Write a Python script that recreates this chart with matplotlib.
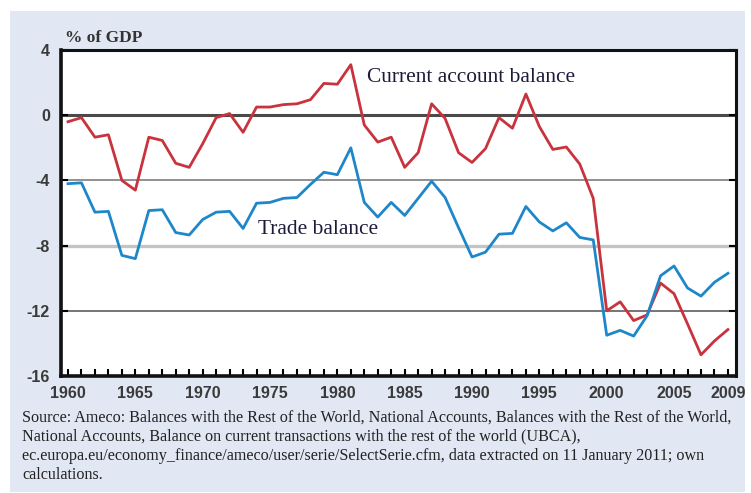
import matplotlib
matplotlib.use("Agg")
import matplotlib.pyplot as plt
from matplotlib.patches import Rectangle
import numpy as np

years = list(range(1960, 2010))

current_account = [-0.4, -0.15, -1.35, -1.2, -4.0, -4.6, -1.35, -1.55, -2.95, -3.2,
                   -1.75, -0.15, 0.1, -1.05, 0.5, 0.5, 0.65, 0.7, 0.95, 1.95,
                   1.9, 3.1, -0.6, -1.65, -1.35, -3.2, -2.3, 0.7, -0.2, -2.3,
                   -2.9, -2.05, -0.15, -0.8, 1.3, -0.7, -2.1, -1.95, -3.0, -5.1,
                   -12.0, -11.45, -12.6, -12.25, -10.3, -10.95, -12.8, -14.7, -13.85, -13.15]

trade = [-4.2, -4.15, -5.95, -5.9, -8.6, -8.8, -5.85, -5.8, -7.2, -7.35,
         -6.4, -5.95, -5.9, -6.95, -5.4, -5.35, -5.1, -5.05, -4.25, -3.5,
         -3.65, -2.0, -5.35, -6.25, -5.35, -6.15, -5.1, -4.05, -5.05, -6.9,
         -8.7, -8.4, -7.3, -7.25, -5.6, -6.55, -7.1, -6.6, -7.5, -7.65,
         -13.5, -13.2, -13.55, -12.3, -9.85, -9.25, -10.6, -11.1, -10.25, -9.7]

y_ticks = [4, 0, -4, -8, -12, -16]
x_ticks = [1960, 1965, 1970, 1975, 1980, 1985, 1990, 1995, 2000, 2005, 2009]

source_text = ("Source: Ameco: Balances with the Rest of the World, National Accounts, Balances with the Rest of the World,\n"
               "National Accounts, Balance on current transactions with the rest of the world (UBCA),\n"
               "ec.europa.eu/economy_finance/ameco/user/serie/SelectSerie.cfm, data extracted on 11 January 2011; own\n"
               "calculations.")

W, H = 751, 493
fig = plt.figure(figsize=(W / 100, H / 100), dpi=100)
fig.patch.set_facecolor("white")

# light blue panel behind everything
fig.patches.append(Rectangle((10 / W, 1 / H), 735 / W, 481 / H, transform=fig.transFigure,
                             facecolor="#E1E8F3", edgecolor="none", zorder=-5))

ax = fig.add_axes([61 / W, (H - 376) / H, (736 - 61) / W, (376 - 50) / H])
ax.set_zorder(2)
ax.set_facecolor("white")

# gridlines of varying weight, like the original
grid_styles = {0: ("#4a4a4a", 2.2), -4: ("#909090", 1.4), -8: ("#c4c4c4", 2.4), -12: ("#6a6a6a", 1.3)}
for yv, (c, lw) in grid_styles.items():
    ax.axhline(yv, color=c, lw=lw, zorder=1)

ax.plot(years, current_account, color="#C8333D", lw=2.0, zorder=3)
ax.plot(years, trade, color="#1E87C9", lw=2.0, zorder=3)

ax.set_xlim(1959.48, 2009.6)
ax.set_ylim(-16, 4)

ax.set_yticks(y_ticks)
ax.set_yticklabels([str(v) for v in y_ticks])
ax.set_xticks(x_ticks)
ax.set_xticklabels([str(v) for v in x_ticks])
ax.set_xticks(years, minor=True)

ax.tick_params(axis="x", which="both", direction="in", length=5, width=1.5, color="black",
               top=False, pad=7)
ax.tick_params(axis="y", which="both", direction="in", length=5, width=1.5, color="black",
               right=True, pad=8)
for lab in ax.get_xticklabels() + ax.get_yticklabels():
    lab.set_fontfamily("Liberation Sans")
    lab.set_fontsize(11.5)
    lab.set_fontweight("bold")
    lab.set_color("#3a3a3a")

ax.spines["left"].set_linewidth(2.6)
ax.spines["bottom"].set_linewidth(2.6)
ax.spines["top"].set_linewidth(2.2)
ax.spines["right"].set_linewidth(2.2)
for s in ax.spines.values():
    s.set_color("#111111")

serif = "Liberation Serif"
fig.text(65 / W, 1 - 38 / H, "% of GDP", family=serif, fontsize=12.5, color="#333333",
         va="center", ha="left", fontweight="bold")
ax.text(1982.2, 2.33, "Current account balance", family=serif, fontsize=15.4,
        color="#1c1c3a", va="center", ha="left", zorder=4)
ax.text(1974.1, -7.0, "Trade balance", family=serif, fontsize=15.4,
        color="#1c1c3a", va="center", ha="left", zorder=4)

fig.text(22 / W, 1 - 410 / H, source_text, family=serif, fontsize=11.6, color="#222222",
         va="top", ha="left", linespacing=1.24)

fig.savefig("out.png", dpi=100)
